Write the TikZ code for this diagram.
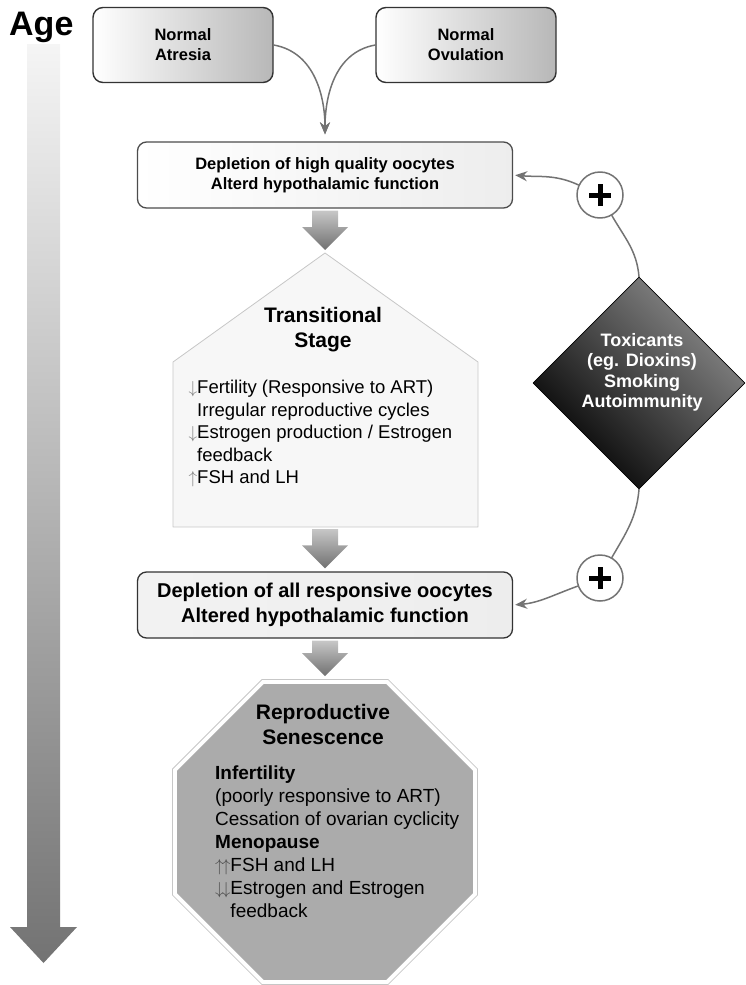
\documentclass[tikz,border=0pt]{standalone}
\usepackage{pgf,tikz}
\usepackage{fontspec}
\setmainfont{Liberation Sans}
\usetikzlibrary{calc}
\usetikzlibrary{arrows.meta}
\usetikzlibrary{shapes.geometric}

\begin{document}
\begin{tikzpicture}[line cap=round,line join=round,>={Stealth[length=12pt,width=10pt]},x=1pt,y=-1pt,
  srcbox/.style={draw=zzzzzz,line width=1.4pt,rounded corners=10pt,left color=white,right color=bdbdbd,minimum width=180pt,minimum height=75pt,align=center,inner sep=0pt,font=\bfseries\fontsize{16.5}{20}\selectfont},
  depbox/.style={line width=1.3pt,rounded corners=9pt,minimum width=375pt,minimum height=66pt,align=center,inner sep=0pt},
  conn/.style={draw=ttqqtt,line width=1.5pt},
  plusnode/.style={circle,draw=ttqqtt,line width=1.5pt,fill=white,minimum size=46pt,inner sep=0pt,
    path picture={\draw[black,line width=5pt,line cap=butt] (path picture bounding box.center) +(-11pt,0pt) -- +(11pt,0pt) (path picture bounding box.center) +(0pt,-11pt) -- +(0pt,11pt);}}]
\definecolor{zzzzzz}{rgb}{0.2,0.2,0.2}
\definecolor{wvwvwv}{rgb}{0.3,0.3,0.3}
\definecolor{ttqqtt}{rgb}{0.45,0.45,0.45}
\definecolor{bdbdbd}{rgb}{0.72,0.72,0.72}
\definecolor{cqcqcq}{rgb}{0.78,0.78,0.78}
\definecolor{rfrfrf}{rgb}{0.44,0.44,0.44}
\definecolor{acacac}{rgb}{0.67,0.67,0.67}
\definecolor{eeeeee}{rgb}{0.93,0.93,0.93}
\newcommand{\grayarrow}[2]{\shade[top color=cqcqcq,bottom color=rfrfrf] let \p1=(#1), \p2=(#2) in
  (\x1-13pt,\y1-2pt) -- (\x1-13pt,\y2+26pt) -- (\x1-23pt,\y2+26pt) -- (\x1,\y2+3pt) -- (\x1+23pt,\y2+26pt) -- (\x1+13pt,\y2+26pt) -- (\x1+13pt,\y1-2pt) -- cycle;}
\newcommand{\dn}{$\downarrow$}
\newcommand{\up}{$\uparrow$}
\useasboundingbox (0,0) rectangle (745,985);

%age
\shade[top color=white!96!black,bottom color=black!55] (27,44) -- (27,927) -- (10,927) -- (43.5,963) -- (77,927) -- (60,927) -- (60,44) -- cycle;
\node[anchor=base west,inner sep=0pt,font=\bfseries\fontsize{34}{36}\selectfont] (age) at (9,35) {Age};

\node[srcbox] (atresia) at (183,45) {Normal\\Atresia};
\node[srcbox] (ovulation) at (466,45) {Normal\\Ovulation};
\node[depbox,draw=wvwvwv,left color=white,right color=eeeeee,font=\bfseries\fontsize{16.5}{20}\selectfont] (early) at (325,175) {Depletion of high quality oocytes\\Alterd hypothalamic function};
\node[depbox,draw=zzzzzz,left color=white!95!black,right color=eeeeee,font=\bfseries\fontsize{20}{25}\selectfont] (late) at (325,605) {Depletion of all responsive oocytes\\Altered hypothalamic function};

\draw[conn,->,shorten >=7pt] (atresia.east) to[out=-10,in=90] (early.north);
\draw[conn,->,shorten >=7pt] (ovulation.west) to[out=190,in=90] (early.north);

%transitional stage
\coordinate (trtop) at (325,253);
\coordinate (trbot) at (325,527);
\draw[draw=cqcqcq,fill=white!97!black,line width=0.8pt] (trtop) -- (478,362) -- (478,527) -- (173,527) -- (173,362) -- cycle;
\node[align=center,inner sep=0pt,font=\bfseries\fontsize{21}{25}\selectfont] (trtitle) at (323,330) {Transitional\\Stage};
\node[anchor=north west,align=left,inner sep=0pt,font=\fontsize{18.5}{22.5}\selectfont] (trlist) at (197,380)
  {\llap{\textcolor{gray}{\dn}}Fertility (Responsive to ART)\\Irregular reproductive cycles\\\llap{\textcolor{gray}{\dn}}Estrogen production / Estrogen\\feedback\\\llap{\textcolor{gray}{\up}}FSH and LH};

%senescence
\node[regular polygon,regular polygon sides=8,minimum size=330pt,inner sep=0pt,draw=cqcqcq,line width=0.8pt,fill=white] (senes) at (325,832) {};
\node[regular polygon,regular polygon sides=8,minimum size=320pt,inner sep=0pt,fill=acacac] (senesin) at (senes) {};
\node[align=center,inner sep=0pt,font=\bfseries\fontsize{21}{25}\selectfont] (sntitle) at (323,724.5) {Reproductive\\Senescence};
\node[anchor=north west,align=left,inner sep=0pt,font=\fontsize{19}{23}\selectfont] (snlist) at (215,766)
  {\textbf{Infertility}\\(poorly responsive to ART)\\Cessation of ovarian cyclicity\\\textbf{Menopause}\\\textcolor{wvwvwv}{\up\kern-2pt\up}FSH and LH\\\textcolor{wvwvwv}{\dn\kern-2pt\dn}Estrogen and Estrogen\\\phantom{\dn\kern-2pt\dn}feedback};

\grayarrow{early.south}{trtop}
\grayarrow{trbot}{late.north}
\grayarrow{late.south}{senes.north}

%toxicants
\node[diamond,aspect=1,minimum width=212pt,minimum height=212pt,inner sep=0pt,draw=black,line width=0.8pt,shading=axis,left color=black!45,right color=black,shading angle=-45] (tox) at (639,383) {};
\node[align=center,inner sep=0pt,text=white,font=\bfseries\fontsize{18}{20.5}\selectfont] (toxtext) at (642,372.5) {Toxicants\\(eg. Dioxins)\\Smoking\\Autoimmunity};
\node[plusnode] (plusa) at (600,195) {};
\node[plusnode] (plusb) at (600,578) {};
\draw[conn,->,shorten >=2pt] (plusa) to[out=155,in=-5] (early.east);
\draw[conn] (plusa) to[out=-60,in=95] (tox.north);
\draw[conn] (tox.south) to[out=-95,in=60] (plusb);
\draw[conn,->,shorten >=2pt] (plusb) to[out=-160,in=5] (late.east);
\end{tikzpicture}
\end{document}
